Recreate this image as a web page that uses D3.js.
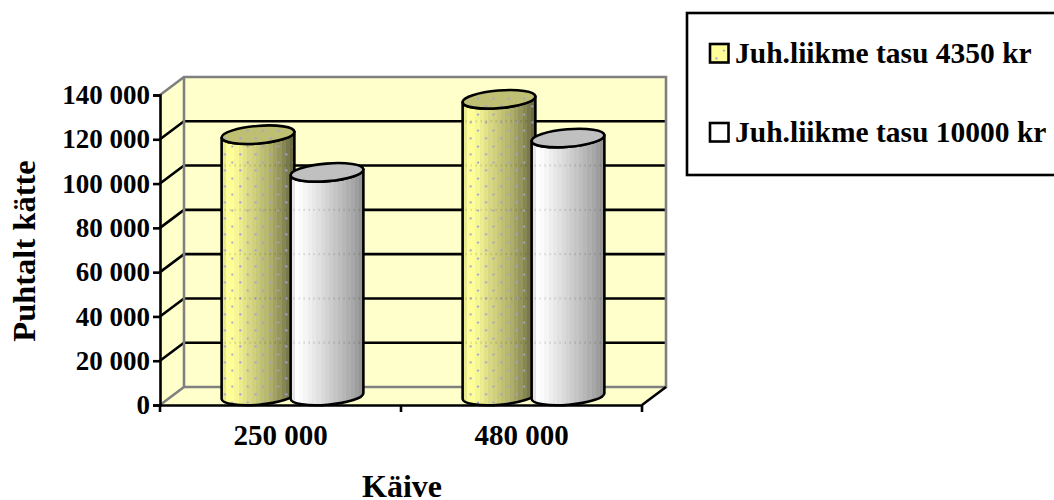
<!DOCTYPE html>
<html>
<head>
<meta charset="utf-8">
<script src="https://cdn.jsdelivr.net/npm/d3@7"></script>
<style>
  html, body { margin: 0; padding: 0; background: #fff; }
  svg { display: block; }
  text { font-family: "Liberation Serif", serif; font-weight: bold; fill: #000; }
</style>
</head>
<body>
<svg id="chart" width="1054" height="500"></svg>
<script>
// Chart content
const categories = ["250 000", "480 000"];
const seriesNames = ["Juh.liikme tasu 4350 kr", "Juh.liikme tasu 10000 kr"];
const netLow = [118000, 134000];
const netHigh = [101000, 116500];
const yTicks = [0, 20000, 40000, 60000, 80000, 100000, 120000, 140000];
const yTitle = "Puhtalt kätte";
const xTitle = "Käive";

// Shading bands across a cylinder, left to right
const yellowBands = ["#eaea8e","#ffff99","#ffff99","#f6f695","#ecec8f","#e2e28a","#d8d884","#d0d07f","#c8c87a","#c0c075","#b8b870","#aeae6a","#a2a264","#95955c","#878754","#78784b","#6a6a42"];
const whiteBands = ["#e6e6e6","#ffffff","#fbfbfb","#f5f5f5","#eeeeee","#e8e8e8","#e1e1e1","#dadada","#d3d3d3","#cccccc","#c5c5c5","#bebebe","#b7b7b7","#afafaf","#a7a7a7","#9e9e9e","#959595"];

const svg = d3.select("#chart");
const defs = svg.append("defs");

// Frame of the 3-D plot
const front = { left: 160, right: 642, top: 95, bottom: 405 };
const depth = { dx: 24, dy: -18 };
const ink = 2.6;
const wallFill = "#ffffcc";
const wallEdge = "#808080";

const y = d3.scaleLinear().domain([0, 140000]).range([front.bottom, front.top]);
const x = d3.scaleBand().domain(categories).range([front.left, front.right]);
const inner = d3.scaleBand().domain([0, 1]).range([-69, 69]);

function stepGradient(id, bands) {
  const g = defs.append("linearGradient").attr("id", id).attr("x1", 0).attr("x2", 1).attr("y1", 0).attr("y2", 0);
  bands.forEach((c, i) => {
    g.append("stop").attr("offset", i / bands.length).attr("stop-color", c);
    g.append("stop").attr("offset", (i + 1) / bands.length).attr("stop-color", c);
  });
}
stepGradient("bandYellow", yellowBands);
stepGradient("bandWhite", whiteBands);

// Dotted texture of the first series
const dotColor = "#a0a0d8";
const dots = defs.append("pattern").attr("id", "dots").attr("patternUnits", "userSpaceOnUse")
  .attr("x", 224.6).attr("y", 146).attr("width", 15.36).attr("height", 16);
[[7.7, 0.6], [7.7, 16.6], [0.4, 8.4], [15.76, 8.4]].forEach(([cx, cy]) => {
  dots.append("circle").attr("cx", cx).attr("cy", cy).attr("r", 1.1).attr("fill", dotColor);
});

// Walls and floor
const pts = a => a.map(p => p.join(",")).join(" ");
const d = depth;
svg.append("polygon").attr("fill", wallFill)
  .attr("points", pts([[front.left + d.dx, front.top + d.dy], [front.right + d.dx, front.top + d.dy], [front.right + d.dx, front.bottom + d.dy], [front.left + d.dx, front.bottom + d.dy]]));
svg.append("polygon").attr("fill", wallFill)
  .attr("points", pts([[front.left, front.top], [front.left + d.dx, front.top + d.dy], [front.left + d.dx, front.bottom + d.dy], [front.left, front.bottom]]));
svg.append("polygon").attr("fill", wallFill)
  .attr("points", pts([[front.left, front.bottom], [front.left + d.dx, front.bottom + d.dy], [front.right + d.dx, front.bottom + d.dy], [front.right, front.bottom]]));

// Gridlines run along the side wall and the back wall
yTicks.filter(v => v > 0 && v < 140000).forEach(v => {
  svg.append("polyline").attr("fill", "none").attr("stroke", "#000").attr("stroke-width", ink)
    .attr("points", pts([[front.left, y(v)], [front.left + d.dx, y(v) + d.dy], [front.right + d.dx, y(v) + d.dy]]));
});

// Grey wall outline
svg.append("polyline").attr("fill", "none").attr("stroke", wallEdge).attr("stroke-width", ink)
  .attr("points", pts([[front.left, front.top], [front.left + d.dx, front.top + d.dy], [front.right + d.dx, front.top + d.dy], [front.right + d.dx, front.bottom + d.dy], [front.left + d.dx, front.bottom + d.dy], [front.left, front.bottom]]));
svg.append("line").attr("stroke", wallEdge).attr("stroke-width", ink)
  .attr("x1", front.left + d.dx).attr("x2", front.left + d.dx).attr("y1", front.top + d.dy).attr("y2", front.bottom + d.dy);
svg.append("line").attr("stroke", "#000").attr("stroke-width", ink)
  .attr("x1", front.right).attr("y1", front.bottom).attr("x2", front.right + d.dx).attr("y2", front.bottom + d.dy);

// Axes
const yAxis = d3.axisLeft(y).tickValues(yTicks).tickSize(7).tickPadding(3)
  .tickFormat(v => v === 0 ? "0" : d3.format(",")(v).replace(/,/g, " "));
const gy = svg.append("g").attr("transform", `translate(${front.left},0)`).call(yAxis);
gy.selectAll(".domain").attr("stroke", "#000").attr("stroke-width", ink);
gy.selectAll("line").attr("stroke", "#000").attr("stroke-width", ink);
gy.selectAll("text").attr("font-size", 27).attr("font-family", null).style("font-family", '"Liberation Serif", serif').style("font-weight", "bold");

// Cylinders, drawn series by series so the later one overlaps the earlier
const rx = 36.5, ry = 8.8, tilt = -4.7;
const ex = rx * Math.cos(tilt * Math.PI / 180), ey = rx * Math.sin(tilt * Math.PI / 180);
const series = [
  { values: netLow, key: 0, body: "url(#bandYellow)", cap: "#bfbf73", dotted: true },
  { values: netHigh, key: 1, body: "url(#bandWhite)", cap: "#c0c0c0", dotted: false }
];
series.forEach(s => {
  s.values.forEach((v, i) => {
    const cx = x(categories[i]) + x.bandwidth() / 2 + inner(s.key) + inner.bandwidth() / 2 + d.dx / 2;
    const top = y(v) + d.dy / 2, base = y(0) + d.dy / 2;
    const wall = `M${cx - ex},${top - ey}L${cx - ex},${base - ey}` +
      `A${rx},${ry} ${tilt} 0 0 ${cx + ex},${base + ey}L${cx + ex},${top + ey}` +
      `A${rx},${ry} ${tilt} 0 1 ${cx - ex},${top - ey}Z`;
    const lid = `M${cx - ex},${top - ey}A${rx},${ry} ${tilt} 1 1 ${cx + ex},${top + ey}A${rx},${ry} ${tilt} 1 1 ${cx - ex},${top - ey}Z`;
    svg.append("path").attr("d", wall).attr("fill", s.body);
    if (s.dotted) svg.append("path").attr("d", wall).attr("fill", "url(#dots)");
    // Faint speckle where the gridlines pass behind the shaded body
    yTicks.filter(t => t > 0 && t < v - 8000).forEach(t => {
      svg.append("line").attr("x1", cx - ex + 3).attr("x2", cx + ex - 3)
        .attr("y1", y(t) + d.dy).attr("y2", y(t) + d.dy)
        .attr("stroke", "#000").attr("stroke-width", 2.4).attr("stroke-dasharray", "1 4").attr("opacity", 0.16);
    });
    svg.append("path").attr("d", wall).attr("fill", "none").attr("stroke", "#000").attr("stroke-width", ink).attr("stroke-linejoin", "round");
    svg.append("path").attr("d", lid).attr("fill", s.cap);
    if (s.dotted) svg.append("path").attr("d", lid).attr("fill", "url(#dots)");
    svg.append("path").attr("d", lid).attr("fill", "none").attr("stroke", "#000").attr("stroke-width", ink);
  });
});

// Category axis, ticks sit on the band boundaries
const gx = svg.append("g").attr("transform", `translate(0,${front.bottom})`)
  .call(d3.axisBottom(x).tickSize(0).tickPadding(19));
gx.selectAll(".domain").attr("stroke", "#000").attr("stroke-width", ink);
gx.selectAll("text").attr("font-size", 29).attr("font-family", null).style("font-family", '"Liberation Serif", serif').style("font-weight", "bold");
[...categories.map(c => x(c)), front.right].forEach(px => {
  gx.append("line").attr("x1", px).attr("x2", px).attr("y1", 0).attr("y2", 7).attr("stroke", "#000").attr("stroke-width", ink);
});

// Axis titles
svg.append("text").attr("x", 402).attr("y", 497).attr("text-anchor", "middle").attr("font-size", 32).text(xTitle);
svg.append("text").attr("transform", "translate(35,251) rotate(-90)").attr("text-anchor", "middle").attr("font-size", 32.5).text(yTitle);

// Legend
svg.append("rect").attr("x", 687).attr("y", 13).attr("width", 380).attr("height", 162)
  .attr("fill", "#fff").attr("stroke", "#000").attr("stroke-width", ink);
seriesNames.forEach((name, i) => {
  const top = 44 + i * 79;
  svg.append("rect").attr("x", 710).attr("y", top).attr("width", 18.5).attr("height", 18.5)
    .attr("fill", i === 0 ? "#ffff99" : "#fff").attr("stroke", "#000").attr("stroke-width", ink);
  if (i === 0) svg.append("rect").attr("x", 710).attr("y", top).attr("width", 18.5).attr("height", 18.5).attr("fill", "url(#dots)");
  svg.append("text").attr("x", 735).attr("y", top + 19).attr("font-size", 29.5).text(name);
});
</script>
</body>
</html>
